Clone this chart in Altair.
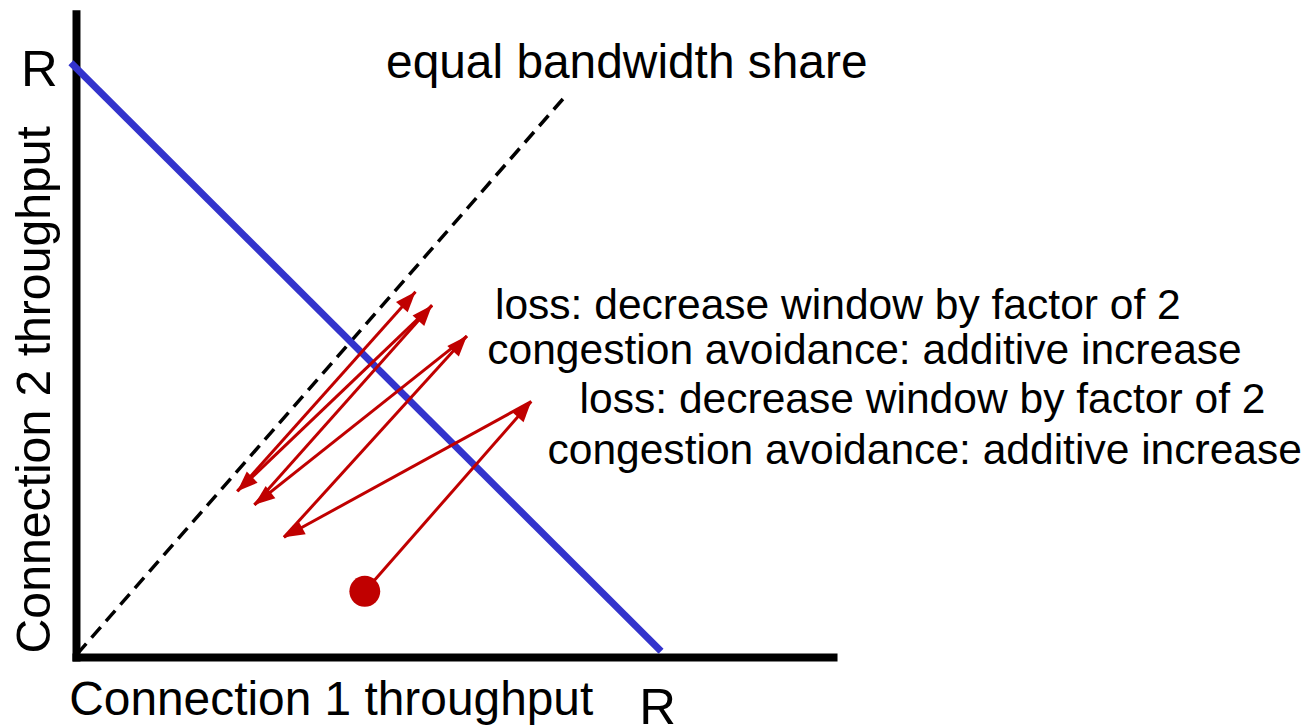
import math
import altair as alt
import pandas as pd

# ---------------- data (units: R = 100 on each axis) ----------------
# zig-zag trajectory of the two connections' throughputs
path_x = [48.8, 77.0, 35.1, 66.1, 30.1, 60.2, 27.2, 57.4]
path_y = [11.15, 43.3, 20.3, 54.4, 25.8, 59.6, 28.1, 61.9]

# full-utilisation line x + y = R (blue)
fair_x = [-1.0, 99.0]
fair_y = [100.7, 1.0]

# equal bandwidth share line (dashed)
equal_x = [0.05, 83.1]
equal_y = [0.5, 95.4]

# axis lines
axis_x1 = [-0.73, -0.05]
axis_y1 = [-0.08, -0.76]
axis_x2 = [128.9, -0.05]
axis_y2 = [-0.08, 109.6]

# annotations
note_text = [
    "equal bandwidth share",
    "loss: decrease window by factor of 2",
    "congestion avoidance: additive increase",
    "loss: decrease window by factor of 2",
    "congestion avoidance: additive increase",
    "Connection 1 throughput",
    "R",
    "R",
]
note_x = [52.4, 70.85, 69.55, 85.2, 79.75, -1.28, 95.3, -9.46]
note_y = [98.1, 57.3, 49.7, 41.4, 32.8, -9.88, -11.3, 96.8]
note_size = [48, 42.7, 42.7, 42.7, 42.7, 48, 51, 51]

ytitle_text = ["Connection 2 throughput"]
ytitle_x = [-4.6]
ytitle_y = [45.3]

# ---------------- styling ----------------
K = 5.92  # pixels per unit
W, H = 1228, 650
RED = "#C00000"
BLUE = "#3333CC"
FONT = "Liberation Sans"

xs = alt.Scale(domain=[0, W / K], nice=False, zero=False)
ys = alt.Scale(domain=[0, H / K], nice=False, zero=False)


def X(f):
    return alt.X(f, type="quantitative", scale=xs, axis=None)


def Y(f):
    return alt.Y(f, type="quantitative", scale=ys, axis=None)


axes_df = pd.DataFrame({"x": axis_x1, "y": axis_y1, "x2": axis_x2, "y2": axis_y2})
fair_df = pd.DataFrame({"x": [fair_x[0]], "y": [fair_y[0]], "x2": [fair_x[1]], "y2": [fair_y[1]]})
equal_df = pd.DataFrame({"x": [equal_x[0]], "y": [equal_y[0]], "x2": [equal_x[1]], "y2": [equal_y[1]]})

seg = pd.DataFrame({
    "x": path_x[:-1], "y": path_y[:-1],
    "x2": path_x[1:], "y2": path_y[1:],
})
seg["angle"] = [
    (math.degrees(math.atan2(x2 - x1, y2 - y1)) + 360) % 360
    for x1, y1, x2, y2 in zip(seg.x, seg.y, seg.x2, seg.y2)
]
head_df = pd.DataFrame({"x": seg.x2, "y": seg.y2, "angle": seg.angle})
dot_df = pd.DataFrame({"x": [path_x[0]], "y": [path_y[0]]})

notes_df = pd.DataFrame({"t": note_text, "x": note_x, "y": note_y, "fs": note_size})
ytitle_df = pd.DataFrame({"t": ytitle_text, "x": ytitle_x, "y": ytitle_y})

axes = alt.Chart(axes_df).mark_rule(color="black", strokeWidth=8, strokeCap="butt").encode(
    x=X("x"), y=Y("y"), x2="x2", y2="y2")

equal = alt.Chart(equal_df).mark_rule(color="black", strokeWidth=3.5, strokeDash=[14, 8]).encode(
    x=X("x"), y=Y("y"), x2="x2", y2="y2")

fair = alt.Chart(fair_df).mark_rule(color=BLUE, strokeWidth=7, strokeCap="butt").encode(
    x=X("x"), y=Y("y"), x2="x2", y2="y2")

arrows = alt.Chart(seg).mark_rule(color=RED, strokeWidth=3, strokeCap="butt").encode(
    x=X("x"), y=Y("y"), x2="x2", y2="y2")

heads = alt.Chart(head_df).mark_point(
    shape="M0,0L0.38,1L-0.38,1Z", filled=True, size=1700, color=RED, opacity=1, strokeWidth=0
).encode(x=X("x"), y=Y("y"), angle=alt.Angle("angle:Q", scale=None))

dot = alt.Chart(dot_df).mark_point(
    shape="circle", filled=True, size=960, color=RED, opacity=1, strokeWidth=0
).encode(x=X("x"), y=Y("y"))

notes = alt.Chart(notes_df).mark_text(
    align="left", baseline="alphabetic", font=FONT, color="black"
).encode(x=X("x"), y=Y("y"), text="t:N", size=alt.Size("fs:Q", scale=None))

ytitle = alt.Chart(ytitle_df).mark_text(
    align="center", baseline="alphabetic", font=FONT, color="black", fontSize=48.3, angle=270
).encode(x=X("x"), y=Y("y"), text="t:N")

chart = alt.layer(axes, equal, fair, arrows, heads, dot, notes, ytitle).properties(
    width=W, height=H,
    autosize=alt.AutoSizeParams(type="none"),
    padding={"left": 69, "top": 0, "right": 0, "bottom": 69},
).configure_view(stroke=None)

chart.save("out.html", embed_options={"renderer": "svg", "actions": False})
